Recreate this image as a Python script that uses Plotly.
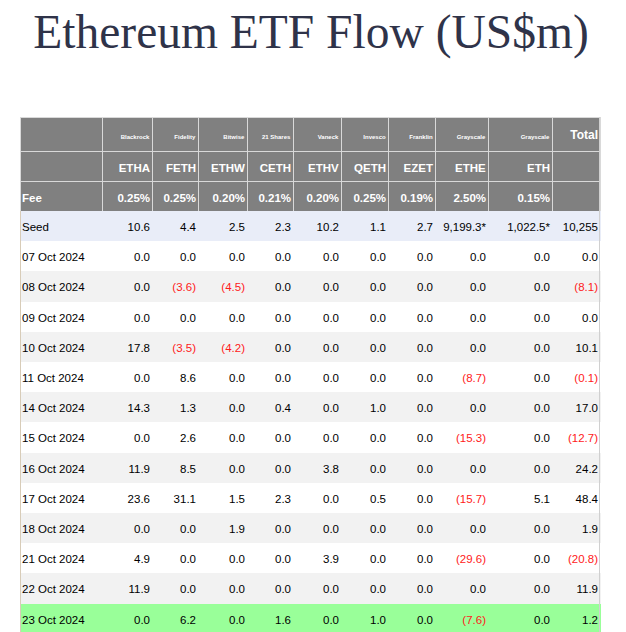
import plotly.graph_objects as go

# --- dati ---------------------------------------------------------------
issuers = ["Blackrock", "Fidelity", "Bitwise", "21 Shares", "Vaneck",
           "Invesco", "Franklin", "Grayscale", "Grayscale"]
tickers = ["ETHA", "FETH", "ETHW", "CETH", "ETHV", "QETH", "EZET", "ETHE", "ETH"]
fees = ["0.25%", "0.25%", "0.20%", "0.21%", "0.20%", "0.25%", "0.19%", "2.50%", "0.15%"]
seed = ["10.6", "4.4", "2.5", "2.3", "10.2", "1.1", "2.7", "9,199.3*", "1,022.5*", "10,255"]

dates = ["07 Oct 2024", "08 Oct 2024", "09 Oct 2024", "10 Oct 2024", "11 Oct 2024",
         "14 Oct 2024", "15 Oct 2024", "16 Oct 2024", "17 Oct 2024", "18 Oct 2024",
         "21 Oct 2024", "22 Oct 2024", "23 Oct 2024"]

etha = [0.0, 0.0, 0.0, 17.8, 0.0, 14.3, 0.0, 11.9, 23.6, 0.0, 4.9, 11.9, 0.0]
feth = [0.0, -3.6, 0.0, -3.5, 8.6, 1.3, 2.6, 8.5, 31.1, 0.0, 0.0, 0.0, 6.2]
ethw = [0.0, -4.5, 0.0, -4.2, 0.0, 0.0, 0.0, 0.0, 1.5, 1.9, 0.0, 0.0, 0.0]
ceth = [0.0, 0.0, 0.0, 0.0, 0.0, 0.4, 0.0, 0.0, 2.3, 0.0, 0.0, 0.0, 1.6]
ethv = [0.0, 0.0, 0.0, 0.0, 0.0, 0.0, 0.0, 3.8, 0.0, 0.0, 3.9, 0.0, 0.0]
qeth = [0.0, 0.0, 0.0, 0.0, 0.0, 1.0, 0.0, 0.0, 0.5, 0.0, 0.0, 0.0, 1.0]
ezet = [0.0, 0.0, 0.0, 0.0, 0.0, 0.0, 0.0, 0.0, 0.0, 0.0, 0.0, 0.0, 0.0]
ethe = [0.0, 0.0, 0.0, 0.0, -8.7, 0.0, -15.3, 0.0, -15.7, 0.0, -29.6, 0.0, -7.6]
eth = [0.0, 0.0, 0.0, 0.0, 0.0, 0.0, 0.0, 0.0, 5.1, 0.0, 0.0, 0.0, 0.0]
total = [0.0, -8.1, 0.0, 10.1, -0.1, 17.0, -12.7, 24.2, 48.4, 1.9, -20.8, 11.9, 1.2]

flows = [etha, feth, ethw, ceth, ethv, qeth, ezet, ethe, eth, total]

# --- stile --------------------------------------------------------------
W, H = 626, 632
OFF = 8                     # margine del body della pagina html
GREY = "#808080"
GRID = "#d9d9d9"
SEED_BG = "#e9edf8"
ALT_BG = "#f2f2f2"
LAST_BG = "#99ff99"
RED = "#ff1a1a"
CLEAR = "rgba(0,0,0,0)"
FONT = "Liberation Sans, Arial"
HEAD_H = 34
ROW_H = 30.2

widths = [82, 50, 46, 49, 46, 48, 47, 47, 53, 64, 48]          # griglia visibile
text_widths = [94] + widths[1:]                                # testo: compensa il padding di 8px


def px_x(sx):
    return (sx - OFF) / W


def px_y(sy):
    return 1 - (sy - OFF) / H


def fmt(v):
    # negativi tra parentesi
    return f"({abs(v):.1f})" if v < 0 else f"{v:.1f}"


def row_bg(i):
    if i == len(dates) - 1:
        return LAST_BG
    return ALT_BG if i % 2 == 1 else "white"


# colonne (column-major per go.Table)
cols = [["", "<b>Fee</b>", "Seed"] + dates]
for k, series in enumerate(flows):
    top = f"<b>{tickers[k]}</b>" if k < len(tickers) else ""
    fee = f"<b>{fees[k]}</b>" if k < len(fees) else ""
    cols.append([top, fee, seed[k]] + [fmt(v) for v in series])

n_rows = len(cols[0])
fills_row = [GREY, GREY, SEED_BG] + [row_bg(i) for i in range(len(dates))]
lines_row = [GRID, GRID, SEED_BG] + [row_bg(i) for i in range(len(dates))]

font_colors = [["white", "white", "black"] + ["black"] * len(dates)]
for series in flows:
    font_colors.append(["white", "white", "black"] + [RED if v < 0 else "black" for v in series])

fig = go.Figure()

# 1) sfondo + griglia
fig.add_trace(go.Table(
    domain=dict(x=[px_x(20), px_x(600)], y=[0, px_y(117)]),
    columnwidth=widths,
    header=dict(
        values=[""] * len(cols),
        fill_color=GREY,
        line=dict(color=GRID, width=1),
        height=HEAD_H,
    ),
    cells=dict(
        values=[[""] * n_rows for _ in cols],
        fill_color=[fills_row] * len(cols),
        line=dict(color=[lines_row] * len(cols), width=1),
        height=ROW_H,
    ),
))

# 2) testo delle celle
fig.add_trace(go.Table(
    domain=dict(x=[px_x(14), px_x(606)], y=[0, px_y(120)]),
    columnwidth=text_widths,
    header=dict(
        values=[""] * (len(cols) - 1) + ["<b>Total</b>"],
        fill_color=CLEAR,
        line=dict(color=CLEAR, width=0),
        font=dict(family=FONT, size=12, color="white"),
        align="right",
        height=HEAD_H,
    ),
    cells=dict(
        values=cols,
        fill_color=CLEAR,
        line=dict(color=CLEAR, width=0),
        font=dict(family=FONT, size=11.5, color=font_colors),
        align=["left"] + ["right"] * (len(cols) - 1),
        height=ROW_H,
    ),
))

# 3) nomi degli emittenti (riga piccola in alto)
fig.add_trace(go.Table(
    domain=dict(x=[px_x(14), px_x(606)], y=[px_y(250), px_y(126)]),
    columnwidth=text_widths,
    header=dict(
        values=[""] + [f"<b>{n.replace(' ', chr(160))}</b>" for n in issuers] + [""],
        fill_color=CLEAR,
        line=dict(color=CLEAR, width=0),
        font=dict(family=FONT, size=6, color="white"),
        align="right",
        height=20,
    ),
    cells=dict(values=[]),
))

fig.update_layout(
    width=W, height=H,
    margin=dict(l=0, r=0, t=0, b=0),
    paper_bgcolor="white",
    title=dict(
        text="Ethereum ETF Flow (US$m)",
        x=px_x(311), xanchor="center",
        y=px_y(31), yanchor="middle",
        font=dict(family="Liberation Serif, Times New Roman", size=47.5, color="#2f3349"),
    ),
    shapes=[
        dict(type="line", xref="paper", yref="paper",
             x0=px_x(20.5), x1=px_x(20.5), y0=px_y(211), y1=px_y(640),
             line=dict(color="#d8ccb8", width=1), layer="above"),
        dict(type="line", xref="paper", yref="paper",
             x0=px_x(599.5), x1=px_x(599.5), y0=px_y(117), y1=px_y(640),
             line=dict(color="#d0d0d0", width=1), layer="above"),
    ],
)

fig.write_html("out.html")
